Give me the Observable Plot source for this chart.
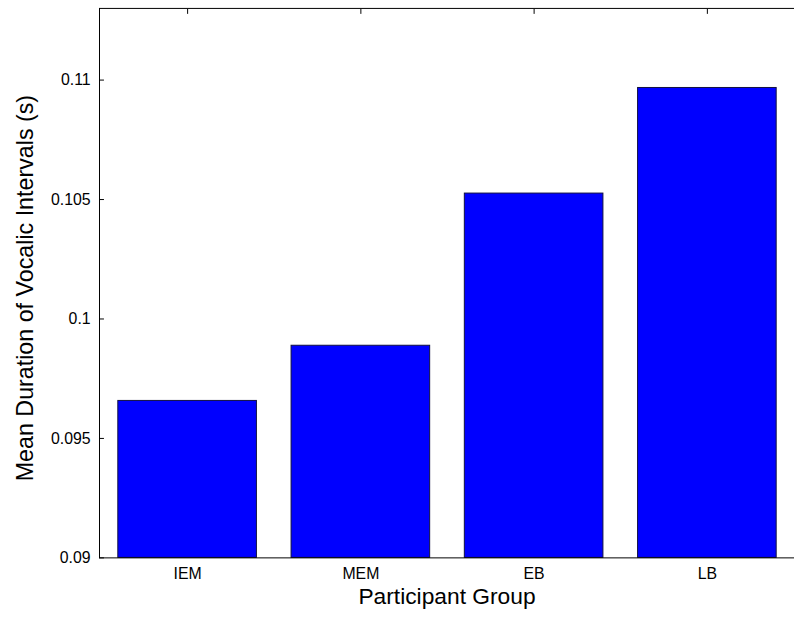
<!DOCTYPE html>
<html>
<head>
<meta charset="utf-8">
<script src="https://cdn.jsdelivr.net/npm/d3@7"></script>
<script src="https://cdn.jsdelivr.net/npm/@observablehq/plot@0.6"></script>
<style>
  html, body { margin: 0; padding: 0; background: #fff; }
  #chart { width: 794px; height: 623px; overflow: hidden; }
</style>
</head>
<body>
<div id="chart"></div>
<script>
const groups = ["IEM", "MEM", "EB", "LB"];
const means = [0.09657, 0.09888, 0.10525, 0.10967];
const yTicks = [0.09, 0.095, 0.1, 0.105, 0.11];
const yTickLabels = ["0.09", "0.095", "0.1", "0.105", "0.11"];
const xTitle = "Participant Group";
const yTitle = "Mean Duration of Vocalic Intervals (s)";
const yMin = 0.09, yMax = 0.113;

const data = groups.map((g, i) => ({group: g, value: means[i]}));
const font = "Liberation Sans, Arial, sans-serif";

const chart = Plot.plot({
  width: 802,
  height: 623,
  marginLeft: 100,
  marginRight: 0,
  marginTop: 8,
  marginBottom: 60,
  style: {fontFamily: font, background: "#fff", color: "#000"},
  x: {type: "band", domain: groups, paddingInner: 0.2, paddingOuter: 0.1, align: 0.5},
  y: {domain: [yMin, yMax]},
  marks: [
    Plot.barY(data, {x: "group", y1: yMin, y2: "value", fill: "#0000ff", stroke: "#101040", strokeWidth: 1}),
    // y tick labels
    Plot.axisY({anchor: "left", ticks: yTicks, tickSize: 0, tickPadding: 9, fontSize: 16,
      tickFormat: (d) => yTickLabels[yTicks.indexOf(d)] ?? "", label: null}),
    // inward y ticks
    Plot.axisY({anchor: "left", ticks: yTicks, tickSize: 5, dx: 5, tickFormat: () => "", label: null, stroke: "#000"}),
    // x tick labels
    Plot.axisX({anchor: "bottom", tickSize: 0, tickPadding: 10, fontSize: 16, label: null}),
    // inward top ticks
    Plot.axisX({anchor: "top", tickSize: 5, dy: 5, tickFormat: () => "", label: null, stroke: "#000"}),
    Plot.frame({stroke: "#000", strokeWidth: 1}),
    Plot.text([xTitle], {frameAnchor: "bottom", dx: 0, dy: 39, fontSize: 23, fill: "#000", lineAnchor: "middle"}),
    Plot.text([yTitle], {frameAnchor: "left", dx: -75, dy: 5, rotate: -90, fontSize: 23.5, fill: "#000",
      lineAnchor: "middle", textAnchor: "middle"})
  ]
});
document.getElementById("chart").appendChild(chart);
</script>
</body>
</html>
